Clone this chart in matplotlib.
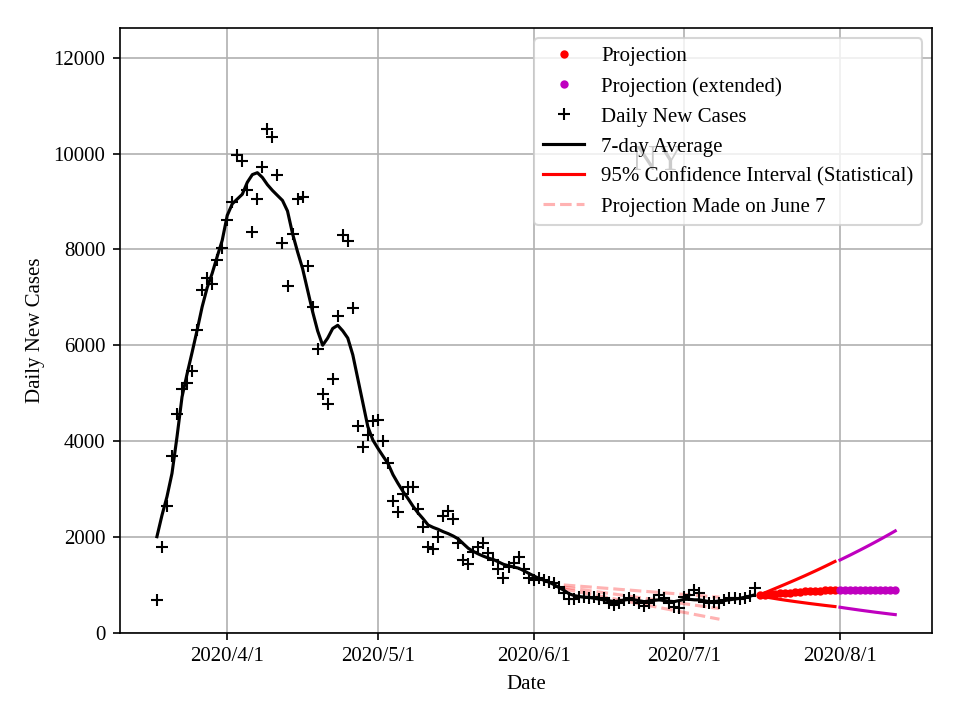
import datetime as dt
import matplotlib
matplotlib.use("Agg")
import matplotlib.pyplot as plt
import matplotlib.dates as mdates
from matplotlib.ticker import FuncFormatter

plt.rcParams['font.family'] = ['Liberation Serif', 'DejaVu Serif']

# ---- data ----
start_obs = dt.date(2020, 3, 18)
daily_cases = [
    # Mar 18 - Mar 31
    688, 1798, 2646, 3688, 4576, 5097, 5215, 5458, 6313, 7146, 7403, 7271, 7785, 8035,
    # Apr
    8604, 8986, 9972, 9854, 9243, 8360, 9056, 9715, 10514, 10340, 9542, 8140, 7229, 8313, 9056,
    9090, 7646, 6798, 5931, 4993, 4785, 5306, 6604, 8292, 8173, 6777, 4313, 3882, 4125, 4417,
    # May
    4438, 4006, 3548, 2743, 2520, 2900, 3045, 3045, 2590, 2215, 1798, 1743, 2000, 2448, 2545,
    2368, 1868, 1528, 1428, 1694, 1798, 1875, 1660, 1521, 1327, 1139, 1382, 1451, 1590, 1327, 1139,
    # Jun
    1104, 1139, 1104, 1069, 1048, 965, 826, 701, 701, 743, 757, 722, 740, 700, 722,
    618, 583, 618, 688, 722, 688, 618, 560, 620, 690, 790, 720, 618, 549, 514,
    # Jul 1 - Jul 15
    740, 800, 900, 826, 652, 618, 640, 618, 688, 722, 722, 701, 722, 771, 931,
]
avg_7day = [
    2007, 2450, 2840, 3327, 4090, 4923, 5400, 5850, 6313, 6800, 7200, 7500, 7850, 8188,
    8708, 8950, 9050, 9150, 9400, 9560, 9600, 9500, 9350, 9230, 9125, 9021, 8800, 8330, 7950,
    7600, 7150, 6700, 6300, 6000, 6150, 6350, 6417, 6300, 6150, 5800, 5300, 4800, 4300, 4021,
    3850, 3690, 3535, 3300, 3118, 2950, 2800, 2640, 2500, 2380, 2250, 2200, 2160, 2111, 2070,
    2020, 1960, 1860, 1764, 1700, 1646, 1600, 1560, 1530, 1480, 1430, 1400, 1375, 1350, 1300, 1243,
    1190, 1139, 1100, 1060, 1010, 950, 890, 820, 780, 760, 745, 740, 725, 705, 688,
    670, 652, 665, 685, 700, 690, 670, 652, 665, 680, 688, 675, 660, 652, 675,
    700, 700, 690, 688, 670, 652, 655, 665, 674, 690, 705, 720, 743, 765, 792,
]

start_proj = dt.date(2020, 7, 16)
proj = [780, 792, 803, 814, 824, 833, 842, 850, 857, 864, 870, 876, 881, 886, 890, 894]
proj_upper = [792, 835, 878, 922, 966, 1010, 1055, 1100, 1146, 1192, 1240, 1288, 1337, 1387, 1438, 1490]
proj_lower = [770, 752, 734, 717, 700, 684, 669, 654, 640, 626, 612, 599, 586, 573, 561, 549]

start_ext = dt.date(2020, 8, 1)
ext = [896, 897, 897, 898, 898, 898, 898, 898, 898, 898, 898, 898]
ext_upper = [1520, 1571, 1622, 1675, 1728, 1782, 1837, 1893, 1950, 2008, 2067, 2127]
ext_lower = [535, 519, 504, 489, 474, 460, 446, 432, 419, 406, 393, 381]

start_old = dt.date(2020, 6, 7)
old_upper = [1000, 992, 984, 975, 967, 959, 951, 942, 934, 926, 918, 909, 901, 893, 885, 876,
             868, 860, 852, 843, 835, 827, 819, 810, 802, 794, 786, 777, 769, 761, 753, 745]
old_mid = [955, 940, 926, 911, 897, 882, 868, 853, 839, 825, 810, 796, 781, 767, 752, 738,
           724, 709, 695, 680, 666, 651, 637, 623, 608, 594, 579, 565, 550, 536, 522, 510]
old_lower = [915, 895, 874, 854, 834, 813, 793, 773, 752, 732, 712, 691, 671, 651, 630, 610,
             590, 569, 549, 529, 508, 488, 468, 447, 427, 407, 386, 366, 346, 325, 305, 285]


def days_from(start, n):
    return [start + dt.timedelta(days=i) for i in range(n)]


t_obs = days_from(start_obs, len(daily_cases))
t_proj = days_from(start_proj, len(proj))
t_ext = days_from(start_ext, len(ext))
t_old = days_from(start_old, len(old_mid))

fig, ax = plt.subplots(figsize=(6.4, 4.8), dpi=150)
fig.subplots_adjust(left=0.125, right=0.971, top=0.961, bottom=0.121)

# old projection (June 7)
h_old, = ax.plot(t_old, old_upper, 'r--', alpha=0.3, label='Projection Made on June 7')
ax.plot(t_old, old_mid, 'r--', alpha=0.3)
ax.plot(t_old, old_lower, 'r--', alpha=0.3)

# observed
h_daily, = ax.plot(t_obs, daily_cases, 'k+', label='Daily New Cases')
h_avg, = ax.plot(t_obs, avg_7day, 'k-', label='7-day Average')

# confidence intervals
h_ci, = ax.plot(t_proj, proj_upper, 'r-', label='95% Confidence Interval (Statistical)')
ax.plot(t_proj, proj_lower, 'r-')
ax.plot(t_ext, ext_upper, 'm-')
ax.plot(t_ext, ext_lower, 'm-')

# projections
h_proj, = ax.plot(t_proj, proj, 'r.', label='Projection')
h_ext, = ax.plot(t_ext, ext, 'm.', label='Projection (extended)')

ax.text(0.662, 0.765, 'NY', transform=ax.transAxes, fontsize=17, ha='center', va='baseline')

ax.set_ylim(0, 1.2 * max(daily_cases))
ax.xaxis.set_major_locator(mdates.MonthLocator())
ax.xaxis.set_major_formatter(FuncFormatter(
    lambda v, pos: '{d.year}/{d.month}/{d.day}'.format(d=mdates.num2date(v))))
ax.set_xlabel('Date')
ax.set_ylabel('Daily New Cases')
ax.grid(True)

ax.legend(handles=[h_proj, h_ext, h_daily, h_avg, h_ci, h_old], loc='upper right')

fig.savefig('out.png', dpi=150)
